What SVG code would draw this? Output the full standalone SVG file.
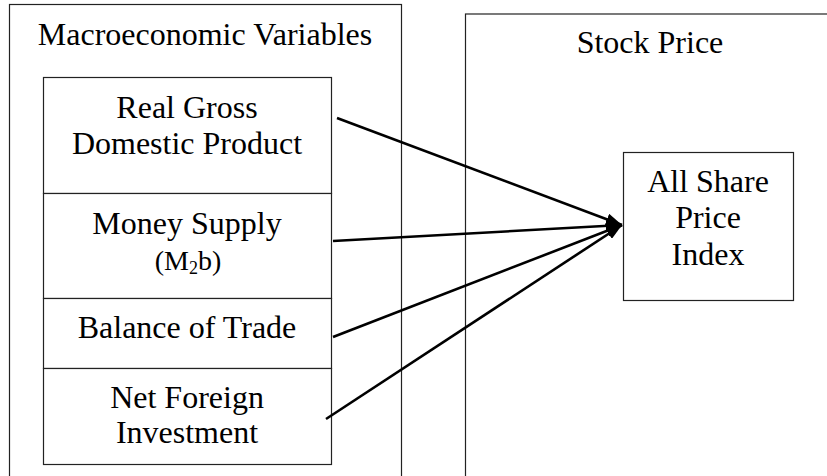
<svg xmlns="http://www.w3.org/2000/svg" width="827" height="476" viewBox="0 0 827 476">
  <style>
    .box { fill: #fff; stroke: #222; stroke-width: 1.2; }
    .lbl { font-size: 32px; fill: #000; text-anchor: middle; }
    .sm { font-size: 28px; }
    .link { stroke: #000; stroke-width: 2.6; fill: none; marker-end: url(#head); }
  </style>
  <defs>
    <marker id="head" markerUnits="userSpaceOnUse" viewBox="0 0 16 12" refX="16" refY="6" markerWidth="16" markerHeight="12" orient="auto">
      <path d="M0,0 L16,6 L0,12 z" fill="#000"/>
    </marker>
  </defs>

  <rect width="827" height="476" fill="#fff"/>

  <g font-family="Liberation Serif, DejaVu Serif, serif">
    <!-- Left panel: macroeconomic variables -->
    <g id="macro-panel">
      <rect class="box" x="9.5" y="4.5" width="392" height="500"/>
      <text class="lbl" x="205" y="45">Macroeconomic Variables</text>
    </g>

    <!-- Right panel: stock price -->
    <g id="stock-panel">
      <rect class="box" x="465.5" y="14" width="400" height="500"/>
      <text class="lbl" x="650" y="53">Stock Price</text>
    </g>

    <g id="rgdp">
      <rect class="box" x="43.5" y="77.5" width="288" height="116"/>
      <text class="lbl" x="187" y="118">Real Gross</text>
      <text class="lbl" x="187" y="154">Domestic Product</text>
    </g>

    <g id="money-supply">
      <rect class="box" x="43.5" y="193.5" width="288" height="105"/>
      <text class="lbl" x="187" y="234">Money Supply</text>
      <text class="lbl sm" x="188" y="270">(M<tspan font-size="18" dy="4">2</tspan><tspan dy="-4">b)</tspan></text>
    </g>

    <g id="balance-of-trade">
      <rect class="box" x="43.5" y="298.5" width="288" height="70"/>
      <text class="lbl" x="187" y="338">Balance of Trade</text>
    </g>

    <g id="net-foreign-investment">
      <rect class="box" x="43.5" y="368.5" width="288" height="96"/>
      <text class="lbl" x="187" y="408">Net Foreign</text>
      <text class="lbl" x="187" y="443">Investment</text>
    </g>

    <g id="all-share-index">
      <rect class="box" x="623.5" y="152.5" width="170" height="148"/>
      <text class="lbl" x="708" y="192">All Share</text>
      <text class="lbl" x="708" y="228">Price</text>
      <text class="lbl" x="708" y="265">Index</text>
    </g>
  </g>

  <g id="connectors">
    <line class="link" x1="337" y1="118" x2="622" y2="225"/>
    <line class="link" x1="333" y1="241" x2="622" y2="225"/>
    <line class="link" x1="333" y1="337" x2="622" y2="225"/>
    <line class="link" x1="326" y1="419" x2="622" y2="225"/>
  </g>
</svg>
